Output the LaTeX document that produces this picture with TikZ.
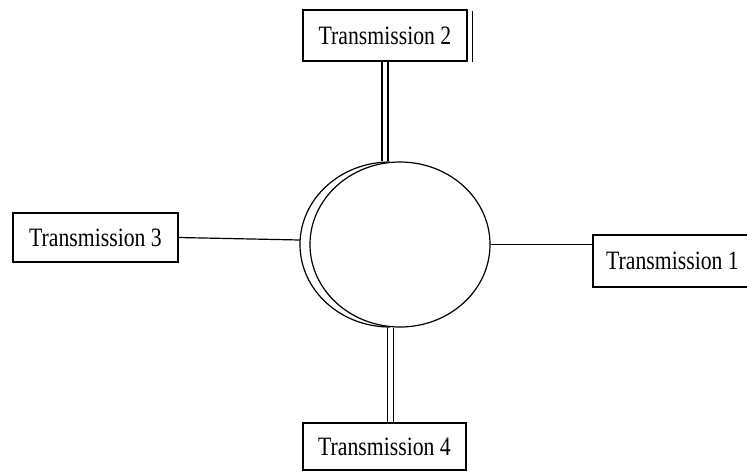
\documentclass[tikz,border=0pt]{standalone}
\usepackage{fontspec}
\setmainfont{Liberation Serif}[FakeStretch=0.82]
\usetikzlibrary{shapes.geometric}
\begin{document}
\begin{tikzpicture}[x=1pt,y=-1pt,
  box/.style={draw,line width=1.2pt,rectangle,inner sep=0pt,font=\fontsize{26.5}{28}\selectfont},
  link/.style={line width=1.2pt},
  dbl/.style={line width=1.1pt}]
\useasboundingbox (0,0) rectangle (747,472);
\clip (0,0) rectangle (747,472);
\node[box,minimum width=164pt,minimum height=51pt] (t2) at (385,35.5) {Transmission 2};
\node[box,minimum width=165pt,minimum height=49pt] (t3) at (95.5,237.5) {Transmission 3};
\node[box,minimum width=159pt,minimum height=52pt] (t1) at (672.5,261) {Transmission 1};
\node[box,minimum width=163pt,minimum height=47pt] (t4) at (384.5,446.5) {Transmission 4};
\node[draw,line width=1.2pt,ellipse,minimum width=180pt,minimum height=165pt,inner sep=0pt] (c) at (400,244.5) {};
\draw[link] (390,244.5) ++(90:82.5) arc[start angle=90,end angle=270,x radius=90,y radius=82.5];
\coordinate (cl) at (300,240);
\draw[link] (t2.north east) ++(5,2) -- ++(0,51);
\draw[dbl] ([xshift=-3pt]t2.south) -- ([xshift=-3pt]t2.south |- c.north);
\draw[dbl] ([xshift=3pt]t2.south) -- ([xshift=3pt]t2.south |- c.north);
\draw[dbl] ([xshift=3pt]t4.north |- c.south) -- ([xshift=3pt]t4.north);
\draw[dbl] ([xshift=9pt]t4.north |- c.south) -- ([xshift=9pt]t4.north);
\draw[link] (t3.east) -- (cl);
\draw[link] (c.east) -- (c.east -| t1.west);
\end{tikzpicture}
\end{document}
